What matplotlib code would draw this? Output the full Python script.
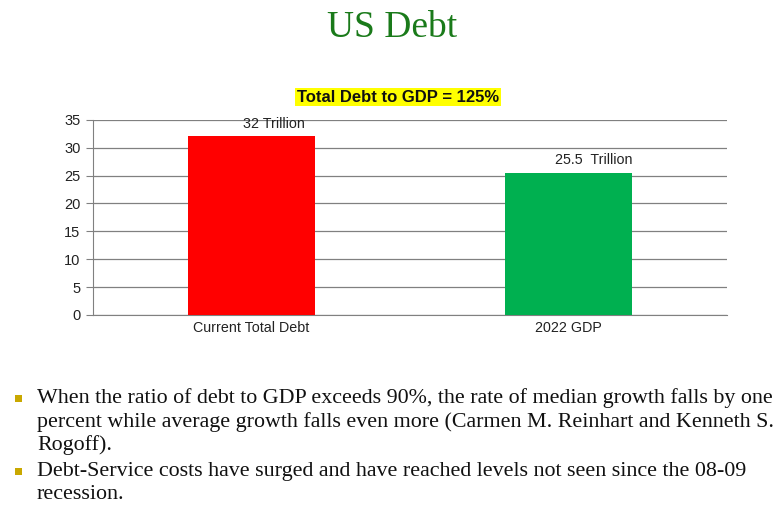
import matplotlib
matplotlib.use("Agg")
import matplotlib.pyplot as plt
from matplotlib.patches import Rectangle

categories = ["Current Total Debt", "2022 GDP"]
values = [32, 25.5]
bar_labels = ["32 Trillion", "25.5  Trillion"]
bar_colors = ["#ff0000", "#00b050"]
yticks = [0, 5, 10, 15, 20, 25, 30, 35]
title = "US Debt"
subtitle = "Total Debt to GDP = 125%"
bullets = [
    ["When the ratio of debt to GDP exceeds 90%, the rate of median growth falls by one",
     "percent while average growth falls even more (Carmen M. Reinhart and Kenneth S.",
     "Rogoff)."],
    ["Debt-Service costs have surged and have reached levels not seen since the 08-09",
     "recession."],
]

W, H = 777, 508
fig = plt.figure(figsize=(W / 100, H / 100), dpi=100)
fig.patch.set_facecolor("white")

ax = fig.add_axes([93 / W, 1 - 315 / H, (727 - 93) / W, (315 - 119.7) / H])
x = range(len(categories))
ax.bar(x, values, width=0.4, color=bar_colors, zorder=3)
ax.set_xlim(-0.5, 1.5)
ax.set_ylim(0, 35)
ax.set_yticks(yticks)
ax.yaxis.grid(True, color="#808080", linewidth=0.9, zorder=0)
ax.set_xticks(list(x))
ax.set_xticklabels(categories, fontsize=10.3, family="Liberation Sans", color="#222222")
ax.tick_params(axis="x", length=0, pad=4)
ax.tick_params(axis="y", length=5, color="#808080", labelsize=10.5, labelcolor="#222222", pad=4)
for lbl in ax.get_yticklabels():
    lbl.set_family("Liberation Sans")
for s in ["top", "right"]:
    ax.spines[s].set_visible(False)
ax.spines["left"].set_color("#808080")
ax.spines["bottom"].set_color("#808080")

offsets = [0.07, 0.08]
for i, (v, t) in enumerate(zip(values, bar_labels)):
    ax.text(i + offsets[i], v + 1.0, t, ha="center", va="bottom", fontsize=10.3,
            family="Liberation Sans", color="#222222")

fig.text(392 / W, 1 - 28 / H, title, ha="center", va="center", fontsize=27,
         family="Liberation Serif", color="#1a7a1a")
fig.text(398 / W, 1 - 97 / H, subtitle, ha="center", va="center", fontsize=12,
         family="Liberation Sans", fontweight="bold", color="#111111",
         bbox=dict(facecolor="#ffff00", edgecolor="none", pad=1.2))

line_h = 23.7
y0 = 398
yy = y0
for b in bullets:
    fig.patches.append(Rectangle((15 / W, 1 - (yy + 4) / H), 7 / W, 7 / H,
                                 transform=fig.transFigure, facecolor="#c9a800",
                                 edgecolor="none"))
    for line in b:
        fig.text(37 / W, 1 - yy / H, line, ha="left", va="center", fontsize=15.8,
                 family="Liberation Serif", color="#111111")
        yy += line_h
    yy += 2

fig.savefig("out.png", dpi=100)
